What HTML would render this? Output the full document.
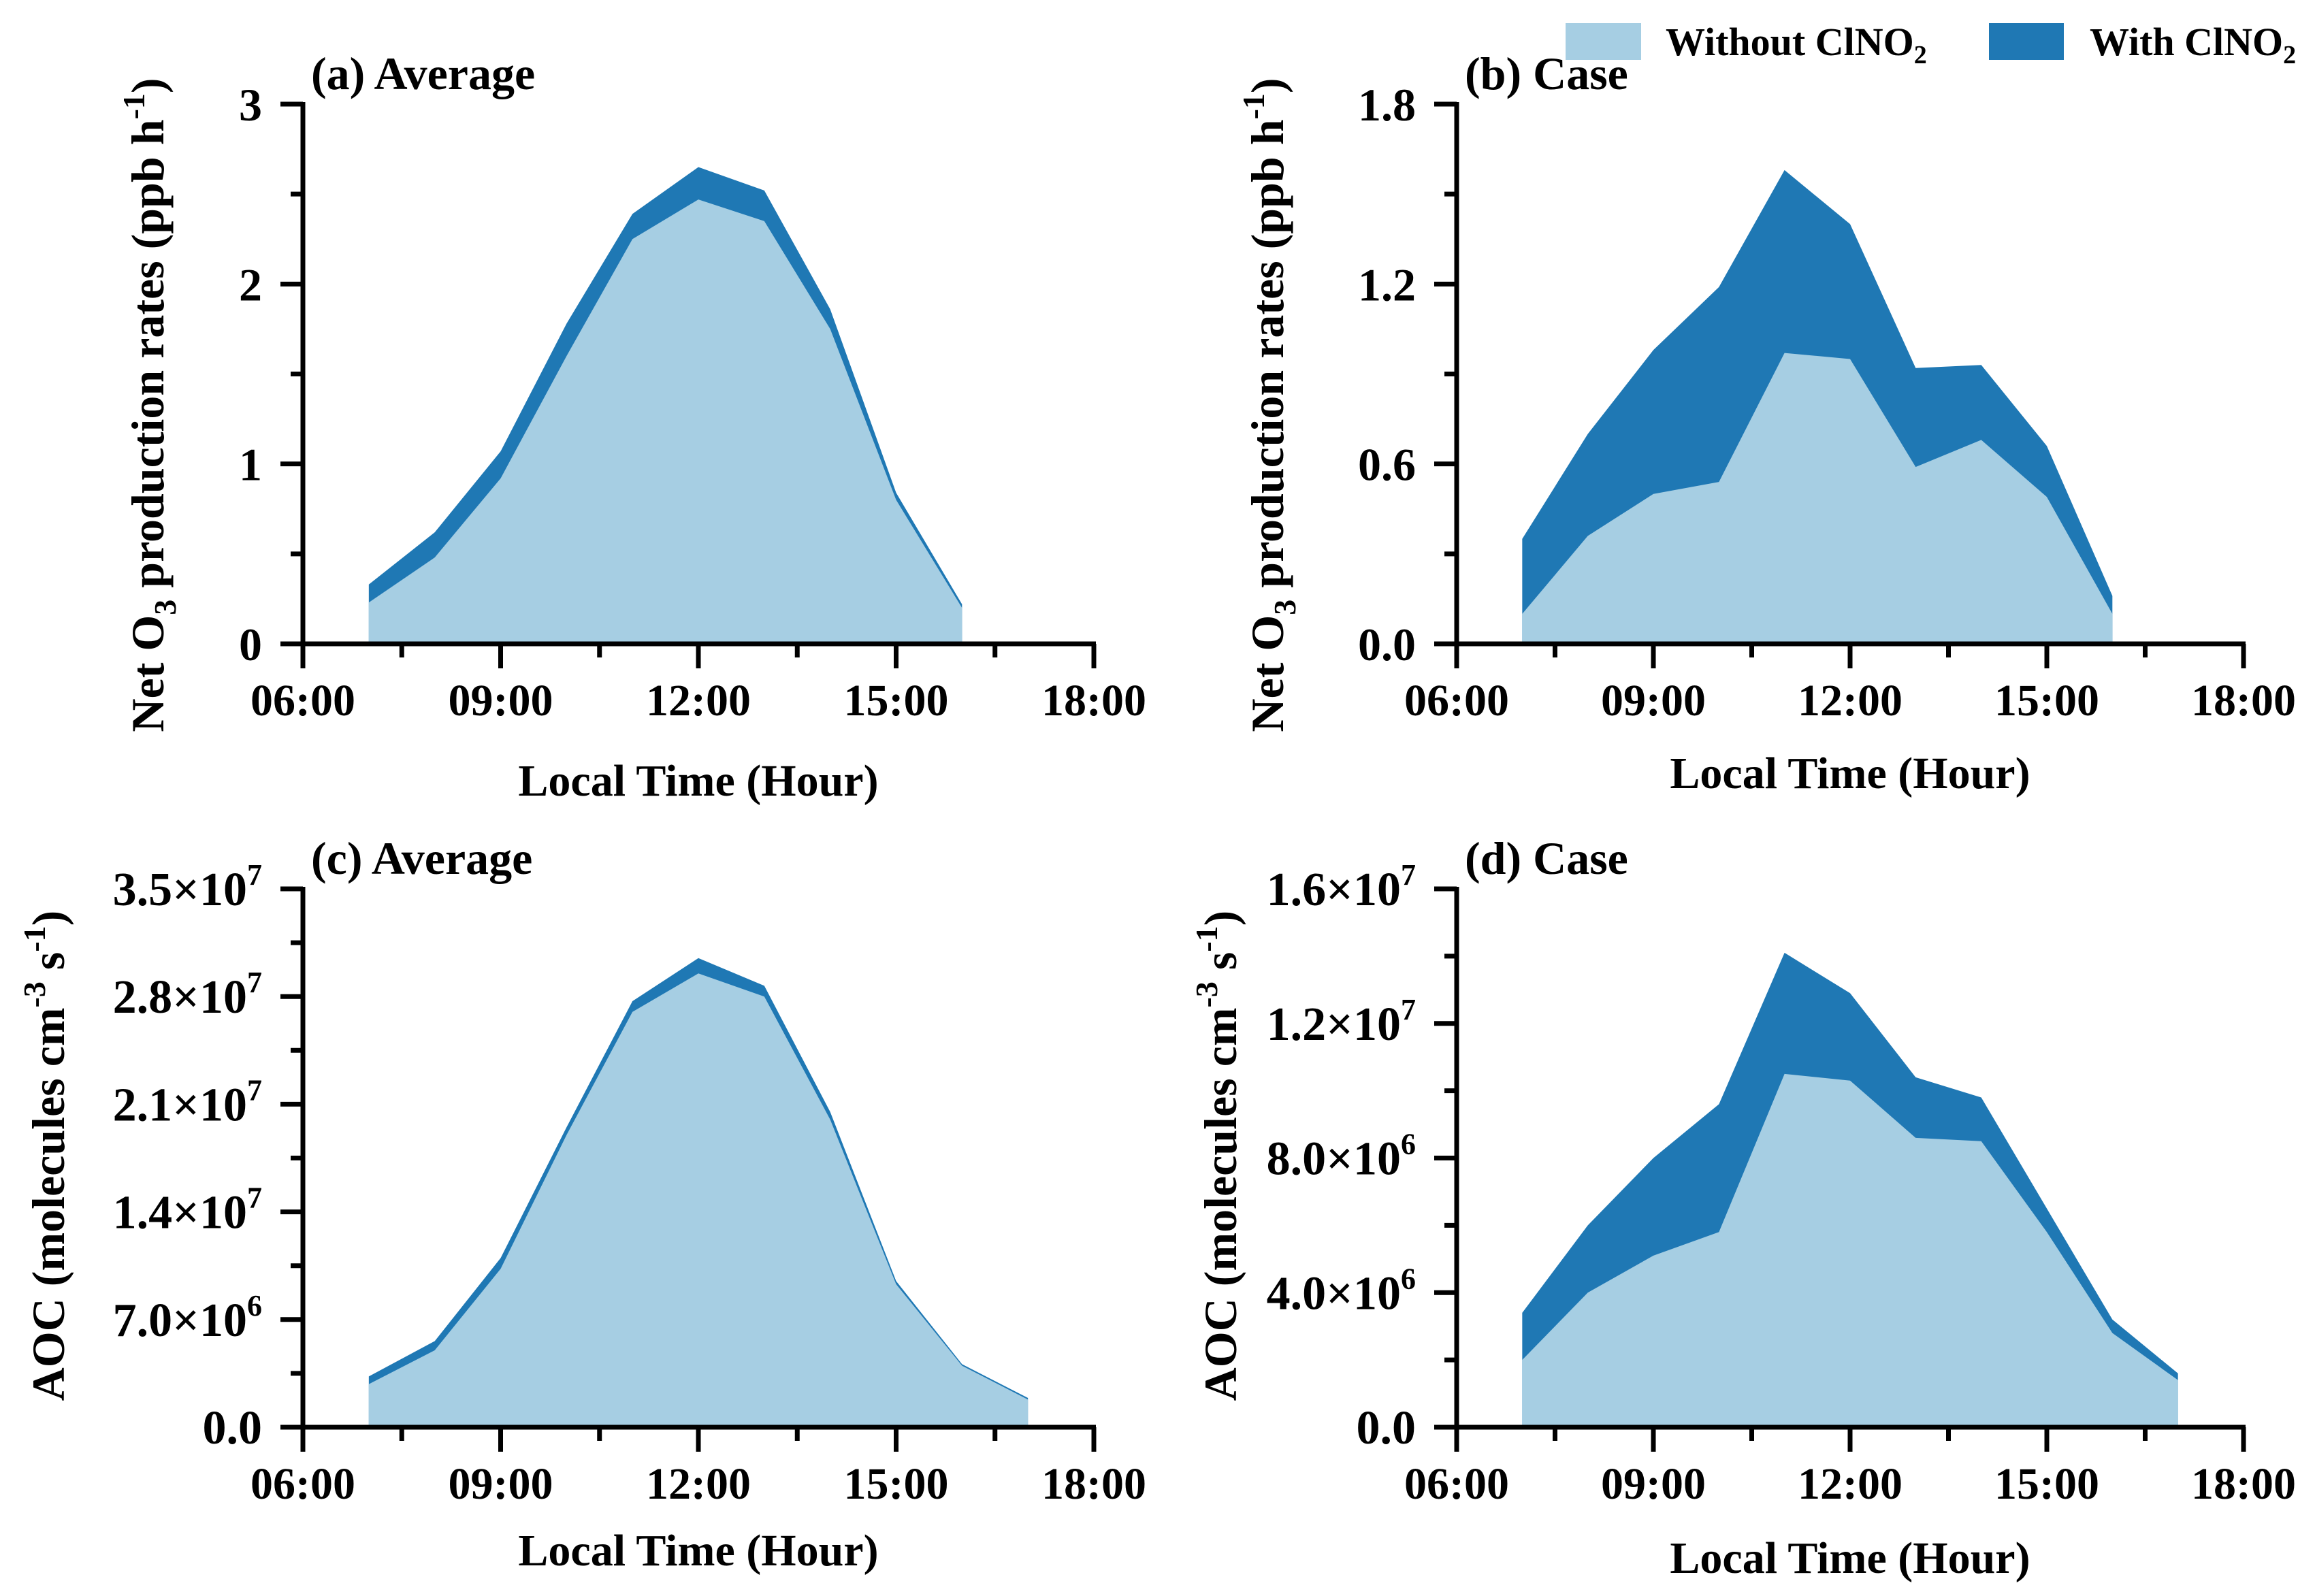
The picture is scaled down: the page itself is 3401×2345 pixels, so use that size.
<!DOCTYPE html>
<html><head><meta charset="utf-8"><style>
html,body{margin:0;padding:0;background:#fff}
svg{display:block;font-family:"Liberation Serif",serif;font-weight:bold}
</style></head><body>
<svg id="fig" width="3401" height="2345" viewBox="0 0 3401 2345" xmlns="http://www.w3.org/2000/svg">
<g>
<rect x="2300" y="34" width="111" height="54" fill="#a6cee3"/>
<text x="2447" y="81" font-size="58">Without ClNO<tspan font-size="38" dy="12">2</tspan></text>
<rect x="2922" y="34" width="110" height="54" fill="#1f78b4"/>
<text x="3070" y="81" font-size="58">With ClNO<tspan font-size="38" dy="12">2</tspan></text>
</g>
</svg>
<script>
const hoursAB = [7,8,9,10,11,12,13,14,15,16];
const hoursCD = [7,8,9,10,11,12,13,14,15,16,17];
const aWithout = [0.23,0.48,0.92,1.6,2.25,2.47,2.35,1.75,0.8,0.2];
const aWith    = [0.33,0.62,1.07,1.78,2.39,2.65,2.52,1.86,0.84,0.22];
const bWithout = [0.1,0.36,0.5,0.54,0.97,0.95,0.59,0.68,0.49,0.1];
const bWith    = [0.35,0.7,0.98,1.19,1.58,1.4,0.92,0.93,0.66,0.16];
const cWithout = [0.28e7,0.5e7,1.03e7,1.9e7,2.7e7,2.95e7,2.8e7,2.0e7,0.93e7,0.4e7,0.18e7];
const cWith    = [0.33e7,0.56e7,1.1e7,1.95e7,2.77e7,3.05e7,2.87e7,2.05e7,0.95e7,0.41e7,0.19e7];
const dWithout = [2.0e6,4.0e6,5.1e6,5.8e6,10.5e6,10.3e6,8.6e6,8.5e6,5.8e6,2.8e6,1.4e6];
const dWith    = [3.4e6,6.0e6,8.0e6,9.6e6,14.1e6,12.9e6,10.4e6,9.8e6,6.5e6,3.2e6,1.6e6];
const xTickLabels = ["06:00","09:00","12:00","15:00","18:00"];
const aTicks = ["0","1","2","3"];
const bTicks = ["0.0","0.6","1.2","1.8"];
const cTickMant = ["0.0","7.0","1.4","2.1","2.8","3.5"];
const cTickExp = ["","6","7","7","7","7"];
const dTickMant = ["0.0","4.0","8.0","1.2","1.6"];
const dTickExp = ["","6","6","7","7"];

const NS="http://www.w3.org/2000/svg";
const svg=document.getElementById('fig');
function el(tag,attrs,parent){const e=document.createElementNS(NS,tag);for(const k in attrs)e.setAttribute(k,attrs[k]);(parent||svg).appendChild(e);return e;}

function panel(o){
  const g=el('g',{});
  
  
  const xs=h=>o.x0+(h-6)/12*(o.x1-o.x0);
  const ys=v=>o.y1-v/o.ymax*(o.y1-o.y0);
  function area(hours,vals,color,nm){
    let d='M'+xs(hours[0])+','+ys(0);
    hours.forEach((h,i)=>{d+=' L'+xs(h)+','+ys(vals[i]);});
    d+=' L'+xs(hours[hours.length-1])+','+ys(0)+' Z';
    const p=el('path',{d:d,fill:color},g);
    
    
  }
  area(o.hours,o.withV,'#1f78b4','area-with-clno2');
  area(o.hours,o.withoutV,'#a6cee3','area-without-clno2');
  const ax=el('g',{stroke:'#000','stroke-width':7},g);
  
  
  el('line',{x1:o.x0,y1:o.y0-3,x2:o.x0,y2:o.y1+36},ax);
  el('line',{x1:o.x0-33,y1:o.y1,x2:o.x1+3,y2:o.y1},ax);
  for(let h=6;h<=18;h+=1.5){
    const major=(h%3===0);
    el('line',{x1:xs(h),y1:o.y1,x2:xs(h),y2:o.y1+(major?36:20)},ax);
  }
  const n=o.ticksMant.length-1;
  for(let i=0;i<=2*n;i++){
    const v=o.ymax*i/(2*n);
    const major=i%2===0;
    el('line',{x1:o.x0-(major?33:18),y1:ys(v),x2:o.x0,y2:ys(v)},ax);
  }
  xTickLabels.forEach((t,i)=>{
    const tx=el('text',{x:xs(6+3*i),y:o.y1+105,'font-size':66,'text-anchor':'middle'},g);
    tx.textContent=t;
    
    
  });
  o.ticksMant.forEach((t,i)=>{
    const v=o.ymax*i/n;
    const tx=el('text',{x:o.x0-60,y:ys(v)+24,'font-size':o.tfs,'text-anchor':'end'},g);
    
    
    if(o.ticksExp && o.ticksExp[i]){
      tx.appendChild(document.createTextNode(t+'\u00d710'));
      const s=el('tspan',{'font-size':44,dy:-30},tx);s.textContent=o.ticksExp[i];
    } else tx.textContent=t;
  });
  const xt=el('text',{x:(o.x0+o.x1)/2,y:o.xtY,'font-size':66,'text-anchor':'middle'},g);
  xt.textContent='Local Time (Hour)';
  
  
  const lb=el('text',{x:o.x0+12,y:o.y0-22,'font-size':68},g);
  lb.textContent=o.label;
  
  
  const yt=el('text',{x:0,y:0,'font-size':o.ytfs,'text-anchor':'middle',transform:'translate('+o.ytX+','+o.ytY+') rotate(-90)'},g);
  
  
  o.ytParts.forEach(p=>{const s=el('tspan',{},yt);if(p[1]){s.setAttribute('font-size',46);s.setAttribute('dy',p[1]);}else if(p[2]){s.setAttribute('dy',p[2]);}s.textContent=p[0];});
}
const ytO3=[["Net O"],["3",18],["\u00a0production rates (ppb h",null,-18],["-1",-28],[")",null,28]];
const ytAOC=[["AOC (molecules cm"],["-3",-28],["\u00a0s",null,28],["-1",-28],[")",null,28]];
panel({name:'panel-a-average',x0:445,x1:1607,y0:153,y1:946,ymax:3,hours:hoursAB,withV:aWith,withoutV:aWithout,ticksMant:aTicks,tfs:68,label:'(a) Average',xtY:1169,ytX:240,ytY:595,ytfs:68,ytParts:ytO3});
panel({name:'panel-b-case',x0:2140,x1:3296,y0:153,y1:946,ymax:1.8,hours:hoursAB,withV:bWith,withoutV:bWithout,ticksMant:bTicks,tfs:68,label:'(b) Case',xtY:1158,ytX:1885,ytY:595,ytfs:68,ytParts:ytO3});
panel({name:'panel-c-average',x0:445,x1:1607,y0:1306,y1:2097,ymax:3.5e7,hours:hoursCD,withV:cWith,withoutV:cWithout,ticksMant:cTickMant,ticksExp:cTickExp,tfs:70,label:'(c) Average',xtY:2300,ytX:94,ytY:1698,ytfs:68,ytParts:ytAOC});
panel({name:'panel-d-case',x0:2140,x1:3296,y0:1306,y1:2097,ymax:1.6e7,hours:hoursCD,withV:dWith,withoutV:dWithout,ticksMant:dTickMant,ticksExp:dTickExp,tfs:70,label:'(d) Case',xtY:2311,ytX:1816,ytY:1698,ytfs:68,ytParts:ytAOC});
</script>
</body></html>
